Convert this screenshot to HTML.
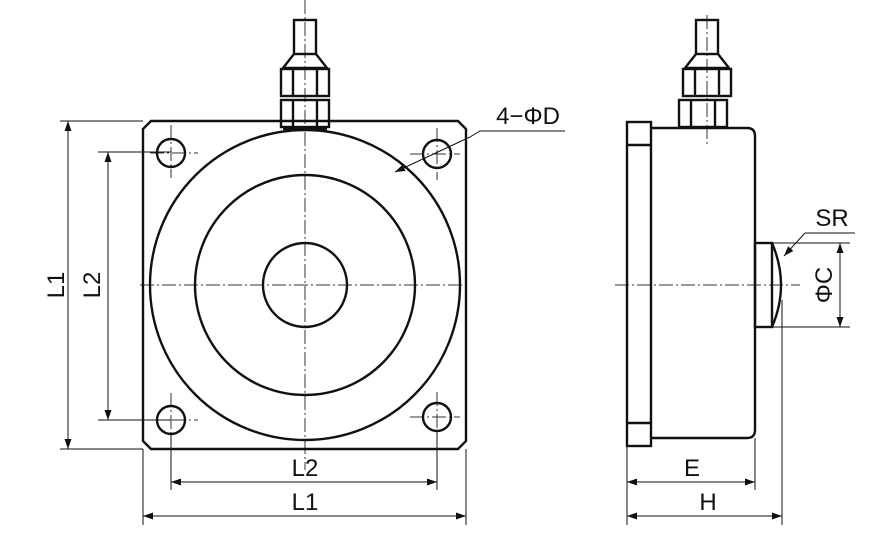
<!DOCTYPE html>
<html><head><style>body{margin:0;background:#fff}svg{display:block}</style></head><body>
<svg width="894" height="560" viewBox="0 0 894 560" xmlns="http://www.w3.org/2000/svg" font-family="Liberation Sans, sans-serif">
<defs>
<marker id="a" viewBox="0 0 10 10" refX="10" refY="5" markerWidth="24" markerHeight="10" markerUnits="userSpaceOnUse" orient="auto-start-reverse"><path d="M0,1.5 L10,5 L0,8.5 z" fill="#111"/></marker>
</defs>
<g stroke="#111" fill="none">
<g stroke-width="1" stroke-dasharray="14,3,2,3" stroke="#333">
<line x1="305" y1="0" x2="305" y2="470"/>
<line x1="140" y1="285" x2="470" y2="285"/>
<line x1="707" y1="15" x2="707" y2="145"/>
<line x1="615" y1="285" x2="800" y2="285"/>
<line x1="150" y1="153" x2="198" y2="153"/><line x1="171" y1="125" x2="171" y2="178"/>
<line x1="410" y1="154" x2="460" y2="154"/><line x1="437" y1="128" x2="437" y2="180"/>
<line x1="150" y1="420" x2="198" y2="420"/><line x1="171" y1="393" x2="171" y2="445"/>
<line x1="410" y1="417" x2="460" y2="417"/><line x1="437" y1="392" x2="437" y2="442"/>
</g>
<g stroke-width="2.4">
<path d="M151,121 L458,121 L466,129 L466,441 L458,449 L151,449 L143,441 L143,129 Z"/>
<circle cx="305" cy="285" r="155"/>
<circle cx="305" cy="285" r="110"/>
<circle cx="305" cy="285" r="42"/>
<circle cx="171" cy="153" r="14"/><circle cx="437" cy="154" r="14"/>
<circle cx="171" cy="420" r="14"/><circle cx="437" cy="417" r="14"/>
<rect x="294" y="20" width="22" height="34"/>
<path d="M294,54 L283,68 L327,68 L316,54"/>
<rect x="281" y="69" width="48" height="27"/>
<line x1="293" y1="69" x2="293" y2="96"/><line x1="317" y1="69" x2="317" y2="96"/>
<rect x="281" y="100" width="48" height="27"/>
<line x1="293" y1="100" x2="293" y2="127"/><line x1="317" y1="100" x2="317" y2="127"/>
<line x1="283" y1="129" x2="327" y2="129"/>
<rect x="696" y="20" width="22" height="34"/>
<path d="M696,54 L685,68 L729,68 L718,54"/>
<rect x="683" y="69" width="48" height="27"/>
<line x1="695" y1="69" x2="695" y2="96"/><line x1="719" y1="69" x2="719" y2="96"/>
<rect x="679" y="100" width="48" height="27"/>
<line x1="691" y1="100" x2="691" y2="127"/><line x1="715" y1="100" x2="715" y2="127"/>
<rect x="627" y="122" width="24" height="324"/>
<line x1="627" y1="145" x2="651" y2="145"/><line x1="627" y1="423" x2="651" y2="423"/>
<path d="M651,128 L747,128 Q755,128 755,136 L755,430 Q755,438 747,438 L651,438"/>
<rect x="755" y="243" width="17" height="84"/>
<path d="M772,243 Q790,285 772,327"/>
</g>
<g stroke-width="1">
<line x1="60" y1="121" x2="143" y2="121"/><line x1="60" y1="449" x2="143" y2="449"/>
<line x1="98" y1="152" x2="171" y2="152"/><line x1="98" y1="420" x2="171" y2="420"/>
<line x1="143" y1="449" x2="143" y2="525"/><line x1="466" y1="449" x2="466" y2="525"/>
<line x1="171" y1="435" x2="171" y2="490"/><line x1="437" y1="432" x2="437" y2="490"/>
<line x1="627" y1="446" x2="627" y2="525"/><line x1="755" y1="438" x2="755" y2="490"/>
<line x1="782" y1="300" x2="782" y2="525"/>
<line x1="772" y1="243" x2="850" y2="243"/><line x1="772" y1="327" x2="850" y2="327"/>
<line x1="68" y1="121" x2="68" y2="449" marker-start="url(#a)" marker-end="url(#a)"/>
<line x1="108" y1="152" x2="108" y2="420" marker-start="url(#a)" marker-end="url(#a)"/>
<line x1="171" y1="482" x2="437" y2="482" marker-start="url(#a)" marker-end="url(#a)"/>
<line x1="143" y1="516" x2="466" y2="516" marker-start="url(#a)" marker-end="url(#a)"/>
<line x1="627" y1="482" x2="755" y2="482" marker-start="url(#a)" marker-end="url(#a)"/>
<line x1="627" y1="516" x2="782" y2="516" marker-start="url(#a)" marker-end="url(#a)"/>
<line x1="840" y1="243" x2="840" y2="327" marker-start="url(#a)" marker-end="url(#a)"/>
<line x1="395" y1="172" x2="470" y2="137" marker-start="url(#a)"/>
<polyline points="470,137 480,131 565,131" />
<line x1="784" y1="256" x2="805" y2="233" marker-start="url(#a)"/>
<line x1="805" y1="233" x2="855" y2="233"/>
</g>
</g>
<g fill="#111" font-size="24">
<text x="305" y="476" text-anchor="middle">L2</text>
<text x="305" y="510" text-anchor="middle">L1</text>
<text x="692" y="476" text-anchor="middle">E</text>
<text x="708" y="510" text-anchor="middle">H</text>
<text x="528" y="124" text-anchor="middle">4−ΦD</text>
<text x="832" y="226" text-anchor="middle">SR</text>
<text transform="translate(64,285) rotate(-90)" text-anchor="middle">L1</text>
<text transform="translate(100,285) rotate(-90)" text-anchor="middle">L2</text>
<text transform="translate(832,285) rotate(-90)" text-anchor="middle">ΦC</text>
</g>
</svg>
</body></html>
